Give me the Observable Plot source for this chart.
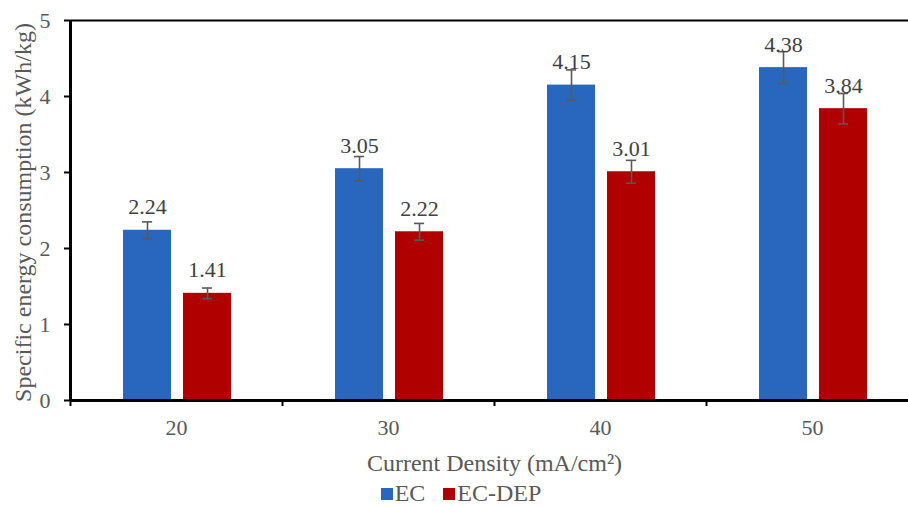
<!DOCTYPE html>
<html>
<head>
<meta charset="utf-8">
<script src="https://cdn.jsdelivr.net/npm/d3@7"></script>
<script src="https://cdn.jsdelivr.net/npm/@observablehq/plot@0.6"></script>
<style>
  body { margin: 0; background: #fff; font-family: "Liberation Serif", "Times New Roman", Tinos, "DejaVu Serif", serif; }
  #chart svg { display: block; font-family: "Liberation Serif", "Times New Roman", Tinos, "DejaVu Serif", serif !important; }
  #chart svg text { font-family: "Liberation Serif", "Times New Roman", Tinos, "DejaVu Serif", serif !important; }
  .legend { display: flex; justify-content: center; align-items: center; gap: 18px; height: 27px; padding-left: 14px; font-size: 24px; color: #595959; }
  .legend .item { display: flex; align-items: center; gap: 2px; }
  .legend .sw { width: 12px; height: 12px; display: inline-block; }
</style>
</head>
<body>
<div id="chart"></div>
<script>
const categories = ["20", "30", "40", "50"];
const series = ["EC", "EC-DEP"];
const ecValues = [2.24, 3.05, 4.15, 4.38];
const ecDepValues = [1.41, 2.22, 3.01, 3.84];
const ecErrors = [0.11, 0.16, 0.20, 0.21];
const ecDepErrors = [0.07, 0.11, 0.15, 0.20];
const yTicks = [0, 1, 2, 3, 4, 5];
const colors = ["#2967BF", "#B00000"];

// layout within each category band (band = 1 unit on x)
const groupStart = 0.25, barW = 0.2265, barGap = 0.0565, capHalf = 0.024;
const xMax = 838 / 212;

const rows = [];
categories.forEach((c, i) => {
  [ecValues, ecDepValues].forEach((vals, s) => {
    const errs = s === 0 ? ecErrors : ecDepErrors;
    const x1 = i + groupStart + s * (barW + barGap);
    rows.push({cat: c, series: series[s], value: vals[i], err: errs[i], x1, x2: x1 + barW, xc: x1 + barW / 2});
  });
});

const plot = Plot.plot({
  width: 908,
  height: 480,
  marginLeft: 70,
  marginRight: 0,
  marginTop: 20,
  marginBottom: 80,
  style: {background: "#fff"},
  x: {type: "linear", domain: [0, xMax]},
  y: {domain: [0, 5]},
  color: {domain: series, range: colors},
  marks: [
    Plot.rectY(rows, {x1: "x1", x2: "x2", y1: 0, y2: "value", fill: "series"}),
    Plot.ruleX(rows, {x: "xc", y1: d => d.value - d.err, y2: d => d.value + d.err, stroke: "#595959", strokeWidth: 1.6}),
    Plot.ruleY(rows, {y: d => d.value - d.err, x1: d => d.xc - capHalf, x2: d => d.xc + capHalf, stroke: "#595959", strokeWidth: 1.6}),
    Plot.ruleY(rows, {y: d => d.value + d.err, x1: d => d.xc - capHalf, x2: d => d.xc + capHalf, stroke: "#595959", strokeWidth: 1.6}),
    Plot.text(rows, {x: "xc", y: "value", text: d => d.value.toFixed(2), dy: -23, fontSize: 22, fill: "#404040"}),
    Plot.ruleY([5], {stroke: "black", strokeWidth: 2}),
    Plot.ruleX([0], {stroke: "black", strokeWidth: 3}),
    Plot.ruleY([0], {stroke: "black", strokeWidth: 3}),
    Plot.axisY({ticks: yTicks, tickSize: 6, tickPadding: 14, tickFormat: d => String(d), fontSize: 22, stroke: "black", strokeWidth: 2, fill: "#595959", label: null}),
    Plot.axisX({ticks: [0, 1, 2, 3], tickSize: 6, tickFormat: () => "", stroke: "black", strokeWidth: 2, label: null}),
    Plot.axisX({ticks: categories.map((c, i) => i + 0.5), tickSize: 0, tickPadding: 19, tickFormat: d => categories[Math.floor(d)], fontSize: 22, fill: "#595959", label: null}),
    Plot.text(["Current Density (mA/cm²)"], {frameAnchor: "bottom", text: d => d, dy: 63, dx: 5, fontSize: 24, fill: "#595959", lineAnchor: "middle", textAnchor: "middle"}),
    Plot.text(["Specific energy consumption (kWh/kg)"], {frameAnchor: "left", text: d => d, rotate: -90, dx: -47, dy: 2, fontSize: 24, fill: "#595959", lineAnchor: "middle", textAnchor: "middle"})
  ]
});
document.getElementById("chart").appendChild(plot);

const legend = document.createElement("div");
legend.className = "legend";
series.forEach((s, k) => {
  const item = document.createElement("span");
  item.className = "item";
  const sw = document.createElement("span");
  sw.className = "sw";
  sw.style.background = colors[k];
  item.appendChild(sw);
  item.appendChild(document.createTextNode(s));
  legend.appendChild(item);
});
document.getElementById("chart").appendChild(legend);
</script>
</body>
</html>
